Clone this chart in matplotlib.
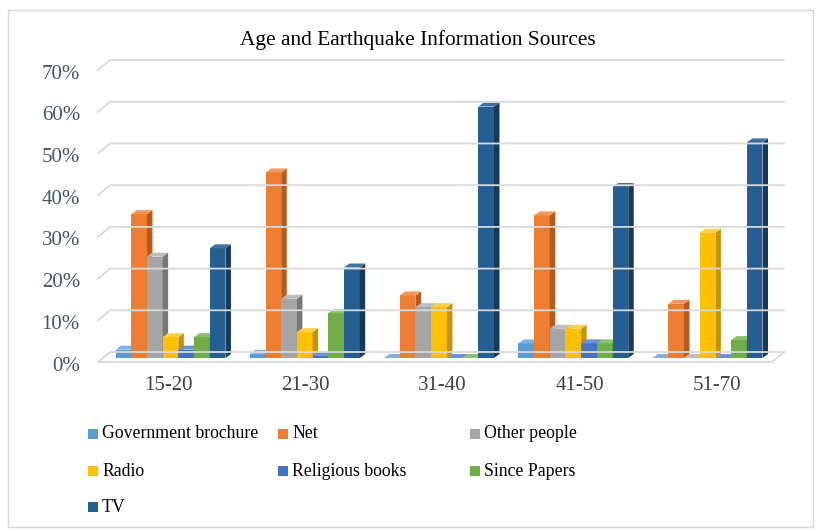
import matplotlib
matplotlib.use("Agg")
import matplotlib.pyplot as plt
from matplotlib.patches import Rectangle, Polygon
from matplotlib.lines import Line2D
from matplotlib.transforms import IdentityTransform, ScaledTranslation
import numpy as np

categories = ["15-20", "21-30", "31-40", "41-50", "51-70"]
series_names = ["Government brochure", "Net", "Other people", "Radio",
                "Religious books", "Since Papers", "TV"]
gov = [0.02, 0.01, 0.0, 0.035, 0.0]
net = [0.345, 0.445, 0.15, 0.342, 0.13]
other = [0.243, 0.142, 0.122, 0.07, 0.0]
radio = [0.05, 0.062, 0.122, 0.07, 0.30]
religious = [0.02, 0.005, 0.0, 0.035, 0.0]
since = [0.05, 0.108, 0.0, 0.035, 0.043]
tv = [0.263, 0.217, 0.603, 0.41, 0.517]
series_values = [gov, net, other, radio, religious, since, tv]
yticks = [0.0, 0.1, 0.2, 0.3, 0.4, 0.5, 0.6, 0.7]
ytick_labels = ["0%", "10%", "20%", "30%", "40%", "50%", "60%", "70%"]

front_cols = ["#5B9BD5", "#ED7D31", "#A5A5A5", "#FFC000", "#4472C4", "#70AD47", "#255E91"]
side_cols = ["#3F7AB0", "#B65A1E", "#777777", "#C49200", "#2E519A", "#4F8231", "#163A5C"]
top_cols = ["#7FB2E2", "#F29A5E", "#BDBDBD", "#FFD04D", "#6A8FD3", "#8CC26A", "#3F72A3"]

W, H = 820, 531
fig = plt.figure(figsize=(W / 100, H / 100), dpi=100)
fig.patch.set_facecolor("white")

ax_left, ax_right = 99.35, 785.9
ax_bottom_px, ax_top_px = 358, 358 - 7 * 41.7
ax = fig.add_axes([ax_left / W, 1 - ax_bottom_px / H,
                   (ax_right - ax_left) / W, (ax_bottom_px - ax_top_px) / H])
ax.set_xlim(-0.5, 4.5)
ax.set_ylim(0, 0.7)
for s in ax.spines.values():
    s.set_visible(False)
ax.patch.set_alpha(0)

serif = ["Liberation Serif", "DejaVu Serif"]

ax.set_yticks(yticks)
ax.set_yticklabels(ytick_labels, fontfamily=serif, fontsize=15, color="#44546A")
ax.set_xticks(range(len(categories)))
ax.set_xticklabels(categories, fontfamily=serif, fontsize=15, color="#404040")
ax.tick_params(axis="y", length=0, pad=14)
ax.tick_params(axis="x", length=0, pad=13)
for lab in ax.get_yticklabels():
    lab.set_transform(lab.get_transform() + ScaledTranslation(0, -4 / 72, fig.dpi_scale_trans))

# bars with pseudo-3D faces (slight perspective compression of group spacing)
unit = 137.3
bw = 15.7 / unit
dx = 5.5 / unit
dy = 0.1 * 4 / 41.7
n = len(series_names)
for ci in range(len(categories)):
    center = ci * (134.25 / unit) + 2.5 / unit
    for si in range(n):
        v = series_values[si][ci]
        x0 = center + (si - n / 2) * bw
        if v > 0:
            ax.add_patch(Rectangle((x0, 0), bw, v, facecolor=front_cols[si],
                                   edgecolor="none", zorder=3 + si * 0.01))
            ax.add_patch(Polygon([(x0 + bw, 0), (x0 + bw + dx, dy), (x0 + bw + dx, v + dy),
                                  (x0 + bw, v)], closed=True, facecolor=side_cols[si],
                                 edgecolor="none", zorder=3 + si * 0.01))
        ax.add_patch(Polygon([(x0, v), (x0 + dx, v + dy), (x0 + bw + dx, v + dy),
                              (x0 + bw, v)], closed=True, facecolor=top_cols[si],
                             edgecolor="none", zorder=3 + si * 0.01))

fig.canvas.draw()
# back-wall gridlines with slanted front stubs
for v in yticks:
    yd = ax.transData.transform((0, v))[1]
    fig.add_artist(Line2D([98, 110, 784], [yd - 4, yd + 6, yd + 6],
                          transform=IdentityTransform(), color="#D9D9D9", lw=1.3, zorder=1))
# floor front edge
y0 = ax.transData.transform((0, 0))[1]
fig.add_artist(Line2D([98, 772, 784], [y0 - 4, y0 - 4, y0 + 6],
                      transform=IdentityTransform(), color="#D9D9D9", lw=1.3, zorder=1))

# title
fig.text(418 / W, 1 - 40 / H, "Age and Earthquake Information Sources",
         ha="center", va="center", fontfamily=serif, fontsize=15.4, color="#000000")

# legend (manual grid 3 columns)
col_x = [88, 278, 470]
row_y = [434, 471, 507]
for i, name in enumerate(series_names):
    r, c = divmod(i, 3)
    x, y = col_x[c], row_y[r]
    fig.add_artist(Rectangle((x / W, 1 - (y + 5) / H), 10 / W, 10 / H,
                             transform=fig.transFigure, facecolor=front_cols[i],
                             edgecolor="none"))
    fig.text((x + 14) / W, 1 - y / H, name, ha="left", va="center",
             fontfamily=serif, fontsize=12.8, color="#000000")

# outer border
fig.add_artist(Rectangle((8 / W, 1 - 527 / H), 805 / W, 517 / H,
                         transform=fig.transFigure, facecolor="none",
                         edgecolor="#D9D9D9", lw=1))

fig.savefig("out.png", dpi=100)
